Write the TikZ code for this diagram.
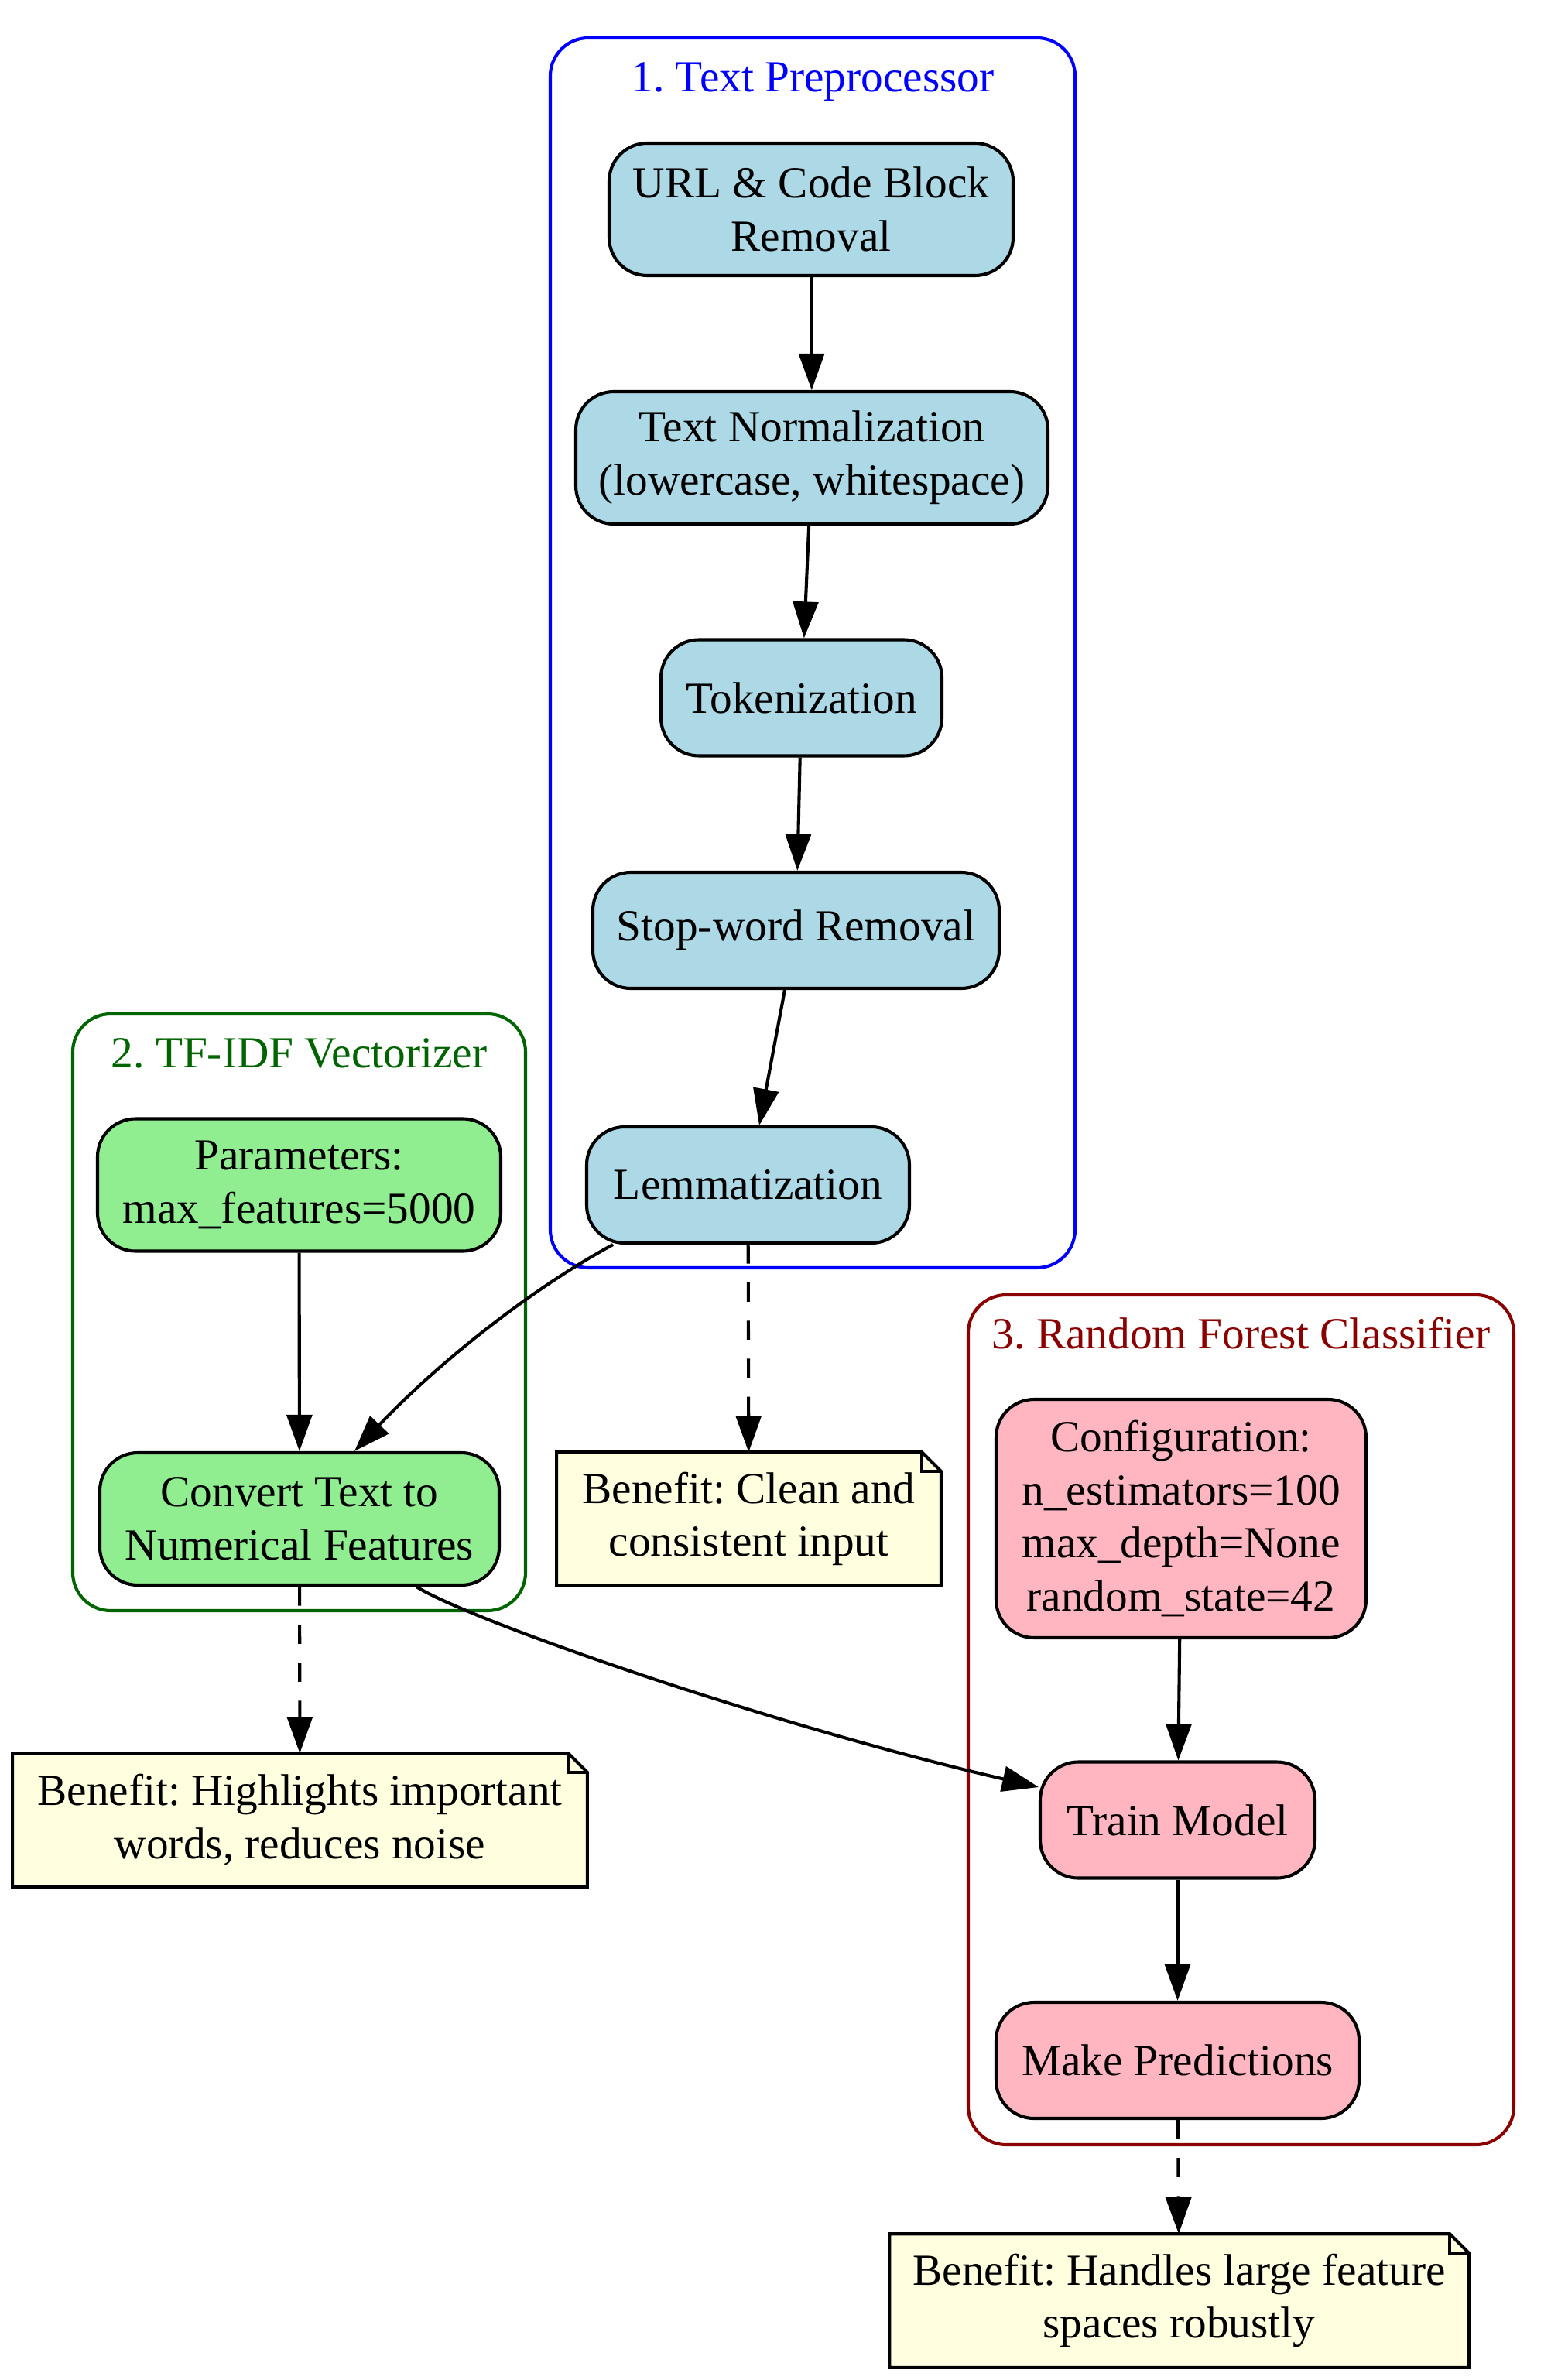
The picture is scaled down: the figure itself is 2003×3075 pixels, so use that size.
\documentclass[tikz,border=0pt]{standalone}
\usepackage{fontspec}
\setmainfont{Liberation Serif}
\usetikzlibrary{arrows.meta,backgrounds}
\frenchspacing
\newlength\pxu
\setlength\pxu{0.2442pt}
\definecolor{nodeblue}{RGB}{173,216,230}
\definecolor{nodegreen}{RGB}{144,238,144}
\definecolor{nodepink}{RGB}{255,182,193}
\definecolor{noteyellow}{RGB}{255,255,224}
\definecolor{clblue}{RGB}{0,0,255}
\definecolor{clgreen}{RGB}{0,100,0}
\definecolor{clred}{RGB}{139,0,0}
\newcommand{\drawnote}[1]{%
  \draw[line width=1pt, fill=noteyellow] (#1.south west) -- (#1.north west) -- ([xshift=-6pt]#1.north east) -- ([yshift=-6pt]#1.north east) -- (#1.south east) -- cycle;
  \draw[line width=1pt] ([xshift=-6pt]#1.north east) -- ([xshift=-6pt,yshift=-6pt]#1.north east) -- ([yshift=-6pt]#1.north east);}
\begin{document}
\frenchspacing
\begin{tikzpicture}[x=\pxu, y=-\pxu,
  txt/.style={font=\fontsize{14}{16.8}\selectfont\frenchspacing},
  box/.style={txt, draw=black, line width=1pt, rounded corners=12pt, align=center, inner sep=0pt},
  bluebox/.style={box, fill=nodeblue},
  greenbox/.style={box, fill=nodegreen},
  pinkbox/.style={box, fill=nodepink},
  notebox/.style={txt, align=center, inner sep=0pt, minimum height=171\pxu},
  cluster/.style={draw, line width=1pt, rounded corners=12pt, inner sep=0pt},
  cltitle/.style={txt, anchor=base, inner sep=0pt},
  edge/.style={-{Triangle[length=11.5pt,width=8pt]}, line width=1pt},
  dashededge/.style={edge, dash pattern=on 6pt off 6pt}
]
\useasboundingbox (0,0) rectangle (2003,3075);

% clusters
\node[cluster, draw=clblue, minimum width=678\pxu, minimum height=1589\pxu] (c1) at (1050,843.5) {};
\node[cluster, draw=clgreen, minimum width=585\pxu, minimum height=771\pxu] (c2) at (386.5,1695.5) {};
\node[cluster, draw=clred, minimum width=705\pxu, minimum height=1098\pxu] (c3) at (1603.5,2222) {};
\node[cltitle, text=clblue] (t1) at ([yshift=-72\pxu]c1.north) {1. Text Preprocessor};
\node[cltitle, text=clgreen] (t2) at ([yshift=-72\pxu]c2.north) {2. TF-IDF Vectorizer};
\node[cltitle, text=clred] (t3) at ([yshift=-72\pxu]c3.north) {3. Random Forest Classifier};

% cluster 1 nodes
\node[bluebox, minimum width=522\pxu, minimum height=171\pxu] (url) at (1048,270.5) {URL \& Code Block\\Removal};
\node[bluebox, minimum width=610\pxu, minimum height=171\pxu] (norm) at (1049,591.5) {Text Normalization\\(lowercase, whitespace)};
\node[bluebox, minimum width=363\pxu, minimum height=150\pxu] (tok) at (1035.5,901.5) {Tokenization};
\node[bluebox, minimum width=525\pxu, minimum height=150\pxu] (stop) at (1028.5,1202) {Stop-word Removal};
\node[bluebox, minimum width=417\pxu, minimum height=150\pxu] (lem) at (966.5,1531) {Lemmatization};

% cluster 2 nodes
\node[greenbox, minimum width=521\pxu, minimum height=171\pxu] (par) at (386.5,1531) {Parameters:\\max\_features=5000};
\node[greenbox, minimum width=516\pxu, minimum height=171\pxu] (conv) at (387,1962.5) {Convert Text to\\Numerical Features};

% cluster 3 nodes
\node[pinkbox, minimum width=478\pxu, minimum height=308\pxu] (conf) at (1526,1962) {Configuration:\\n\_estimators=100\\max\_depth=None\\random\_state=42};
\node[pinkbox, minimum width=355\pxu, minimum height=150\pxu] (train) at (1521.5,2351.5) {Train Model};
\node[pinkbox, minimum width=469\pxu, minimum height=150\pxu] (pred) at (1521.5,2662) {Make Predictions};

% notes
\node[notebox, minimum width=495\pxu] (n1) at (967.5,1962.5) {Benefit: Clean and\\consistent input};
\node[notebox, minimum width=741\pxu] (n2) at (387.5,2351.5) {Benefit: Highlights important\\words, reduces noise};
\node[notebox, minimum width=747\pxu] (n3) at (1523.5,2972.5) {Benefit: Handles large feature\\spaces robustly};
\begin{scope}[on background layer]
\fill[white] (0,0) rectangle (2003,3075);
\drawnote{n1}
\drawnote{n2}
\drawnote{n3}
\end{scope}

% edges
\draw[edge] (url) -- (norm);
\draw[edge] (norm) -- (tok);
\draw[edge] (tok) -- (stop);
\draw[edge] (stop) -- (lem);
\draw[edge] (par) -- (conv);
\draw[edge] ([xshift=36\pxu]lem.south west) .. controls (680,1669) and (561.5,1765.5) .. ([xshift=71\pxu]conv.north);
\draw[edge] ([xshift=151\pxu]conv.south) .. controls (610,2095) and (1000,2230) .. ([yshift=42.5\pxu]train.west);
\draw[edge] (conf) -- (train);
\draw[edge] (train) -- (pred);
\draw[dashededge] (lem) -- (n1);
\draw[dashededge] (conv) -- (n2);
\draw[dashededge] (pred) -- (n3);
\end{tikzpicture}
\end{document}
